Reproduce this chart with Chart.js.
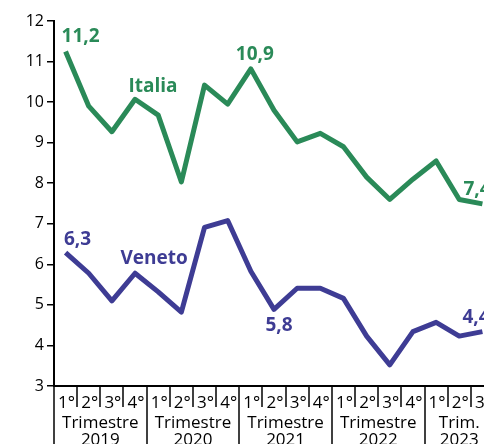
<!DOCTYPE html>
<html>
<head>
<meta charset="utf-8">
<script src="https://cdn.jsdelivr.net/npm/chart.js@4"></script>
<style>
  html, body { margin: 0; padding: 0; background: #fff; overflow: hidden; width: 484px; height: 444px; }
  canvas { display: block; }
</style>
</head>
<body>
<canvas id="c" width="494" height="444"></canvas>
<script>
// ---- data ----
const quarters = ['1°','2°','3°','4°','1°','2°','3°','4°','1°','2°','3°','4°','1°','2°','3°','4°','1°','2°','3°'];
const groupTitles = ['Trimestre','Trimestre','Trimestre','Trimestre','Trim.'];
const groupYears = ['2019','2020','2021','2022','2023'];
const groupSizes = [4, 4, 4, 4, 3];
const italia = [11.25, 9.9, 9.27, 10.07, 9.68, 8.03, 10.42, 9.95, 10.82, 9.8, 9.02, 9.23, 8.9, 8.15, 7.6, 8.1, 8.55, 7.6, 7.49];
const veneto = [6.29, 5.78, 5.1, 5.78, 5.32, 4.82, 6.91, 7.08, 5.83, 4.89, 5.41, 5.41, 5.16, 4.23, 3.52, 4.34, 4.57, 4.23, 4.34];
const yTicks = [3, 4, 5, 6, 7, 8, 9, 10, 11, 12];

const GREEN = '#2a8a58';
const PURPLE = '#3e3c94';

// text annotations attached to data points (series index, point index, pixel offset)
const annotations = [
  { text: '11,2',   ds: 0, i: 0,  dx: 15,  dy: -9,  align: 'center' },
  { text: 'Italia', ds: 0, i: 3,  dx: 18,  dy: -7,  align: 'center' },
  { text: '10,9',   ds: 0, i: 8,  dx: 4,   dy: -9,  align: 'center' },
  { text: '7,4',    ds: 0, i: 18, dx: -19, dy: -9,  align: 'left' },
  { text: '6,3',    ds: 1, i: 0,  dx: 12,  dy: -8,  align: 'center' },
  { text: 'Veneto', ds: 1, i: 3,  dx: 19,  dy: -9,  align: 'center' },
  { text: '5,8',    ds: 1, i: 9,  dx: 5,   dy: 22,  align: 'center' },
  { text: '4,4',    ds: 1, i: 18, dx: -20, dy: -9,  align: 'left' }
];

Chart.defaults.font.family = "'Open Sans', sans-serif";
Chart.defaults.color = '#000';

const xLabelPlugin = {
  id: 'xLabels',
  afterDraw(chart) {
    const ctx = chart.ctx;
    const xs = chart.scales.x;
    const top = chart.chartArea.bottom;
    ctx.save();
    ctx.strokeStyle = '#000';
    ctx.lineWidth = 1.5;
    // separators
    let start = 0;
    const groupStarts = new Set();
    groupSizes.forEach(s => { groupStarts.add(start); start += s; });
    groupStarts.add(start);
    for (let i = 0; i <= quarters.length; i++) {
      const x = Math.round(xs.getPixelForValue(i - 0.5));
      const bottom = groupStarts.has(i) ? 444 : 407;
      ctx.beginPath();
      ctx.moveTo(x, top);
      ctx.lineTo(x, bottom);
      ctx.stroke();
    }
    // quarter labels
    ctx.fillStyle = '#000';
    ctx.font = "17px 'Open Sans'";
    ctx.textAlign = 'center';
    ctx.textBaseline = 'alphabetic';
    quarters.forEach((q, i) => {
      ctx.fillText(q, xs.getPixelForValue(i) + 1, 408);
    });
    // group labels
    start = 0;
    groupSizes.forEach((s, g) => {
      const cx = (xs.getPixelForValue(start - 0.5) + xs.getPixelForValue(start + s - 0.5)) / 2;
      ctx.fillText(groupTitles[g], cx, 427.5);
      ctx.fillText(groupYears[g], cx, 445);
      start += s;
    });
    ctx.restore();
  },
  afterDatasetsDraw(chart) {
    const ctx = chart.ctx;
    ctx.save();
    ctx.font = "bold 19px 'Open Sans'";
    ctx.textBaseline = 'alphabetic';
    annotations.forEach(a => {
      const el = chart.getDatasetMeta(a.ds).data[a.i];
      ctx.fillStyle = chart.data.datasets[a.ds].borderColor;
      ctx.textAlign = a.align;
      ctx.fillText(a.text, el.x + a.dx, el.y + a.dy);
    });
    ctx.restore();
  }
};

new Chart(document.getElementById('c'), {
  type: 'line',
  data: {
    labels: quarters,
    datasets: [
      { label: 'Italia', data: italia, borderColor: GREEN, backgroundColor: GREEN, borderWidth: 5, pointRadius: 0, tension: 0, borderJoinStyle: 'round', borderCapStyle: 'butt', clip: false },
      { label: 'Veneto', data: veneto, borderColor: PURPLE, backgroundColor: PURPLE, borderWidth: 5, pointRadius: 0, tension: 0, borderJoinStyle: 'round', borderCapStyle: 'butt', clip: false }
    ]
  },
  options: {
    responsive: false,
    devicePixelRatio: 1,
    animation: false,
    layout: { padding: { top: 21, left: 0, right: 0, bottom: 0 } },
    plugins: { legend: { display: false }, tooltip: { enabled: false } },
    scales: {
      x: {
        type: 'category',
        offset: true,
        ticks: { display: false },
        grid: { display: false },
        border: { display: true, color: '#000', width: 2 },
        afterFit(scale) { scale.height = 58; }
      },
      y: {
        min: 3, max: 12,
        afterBuildTicks(scale) { scale.ticks = yTicks.map(v => ({ value: v })); },
        ticks: { font: { size: 16 }, color: '#000', padding: 3 },
        grid: { display: true, drawOnChartArea: false, drawTicks: true, tickLength: 7, color: '#000', lineWidth: 1.5 },
        border: { display: true, color: '#000', width: 2 },
        afterFit(scale) { scale.width = 54; }
      }
    }
  },
  plugins: [xLabelPlugin]
});
</script>
</body>
</html>
